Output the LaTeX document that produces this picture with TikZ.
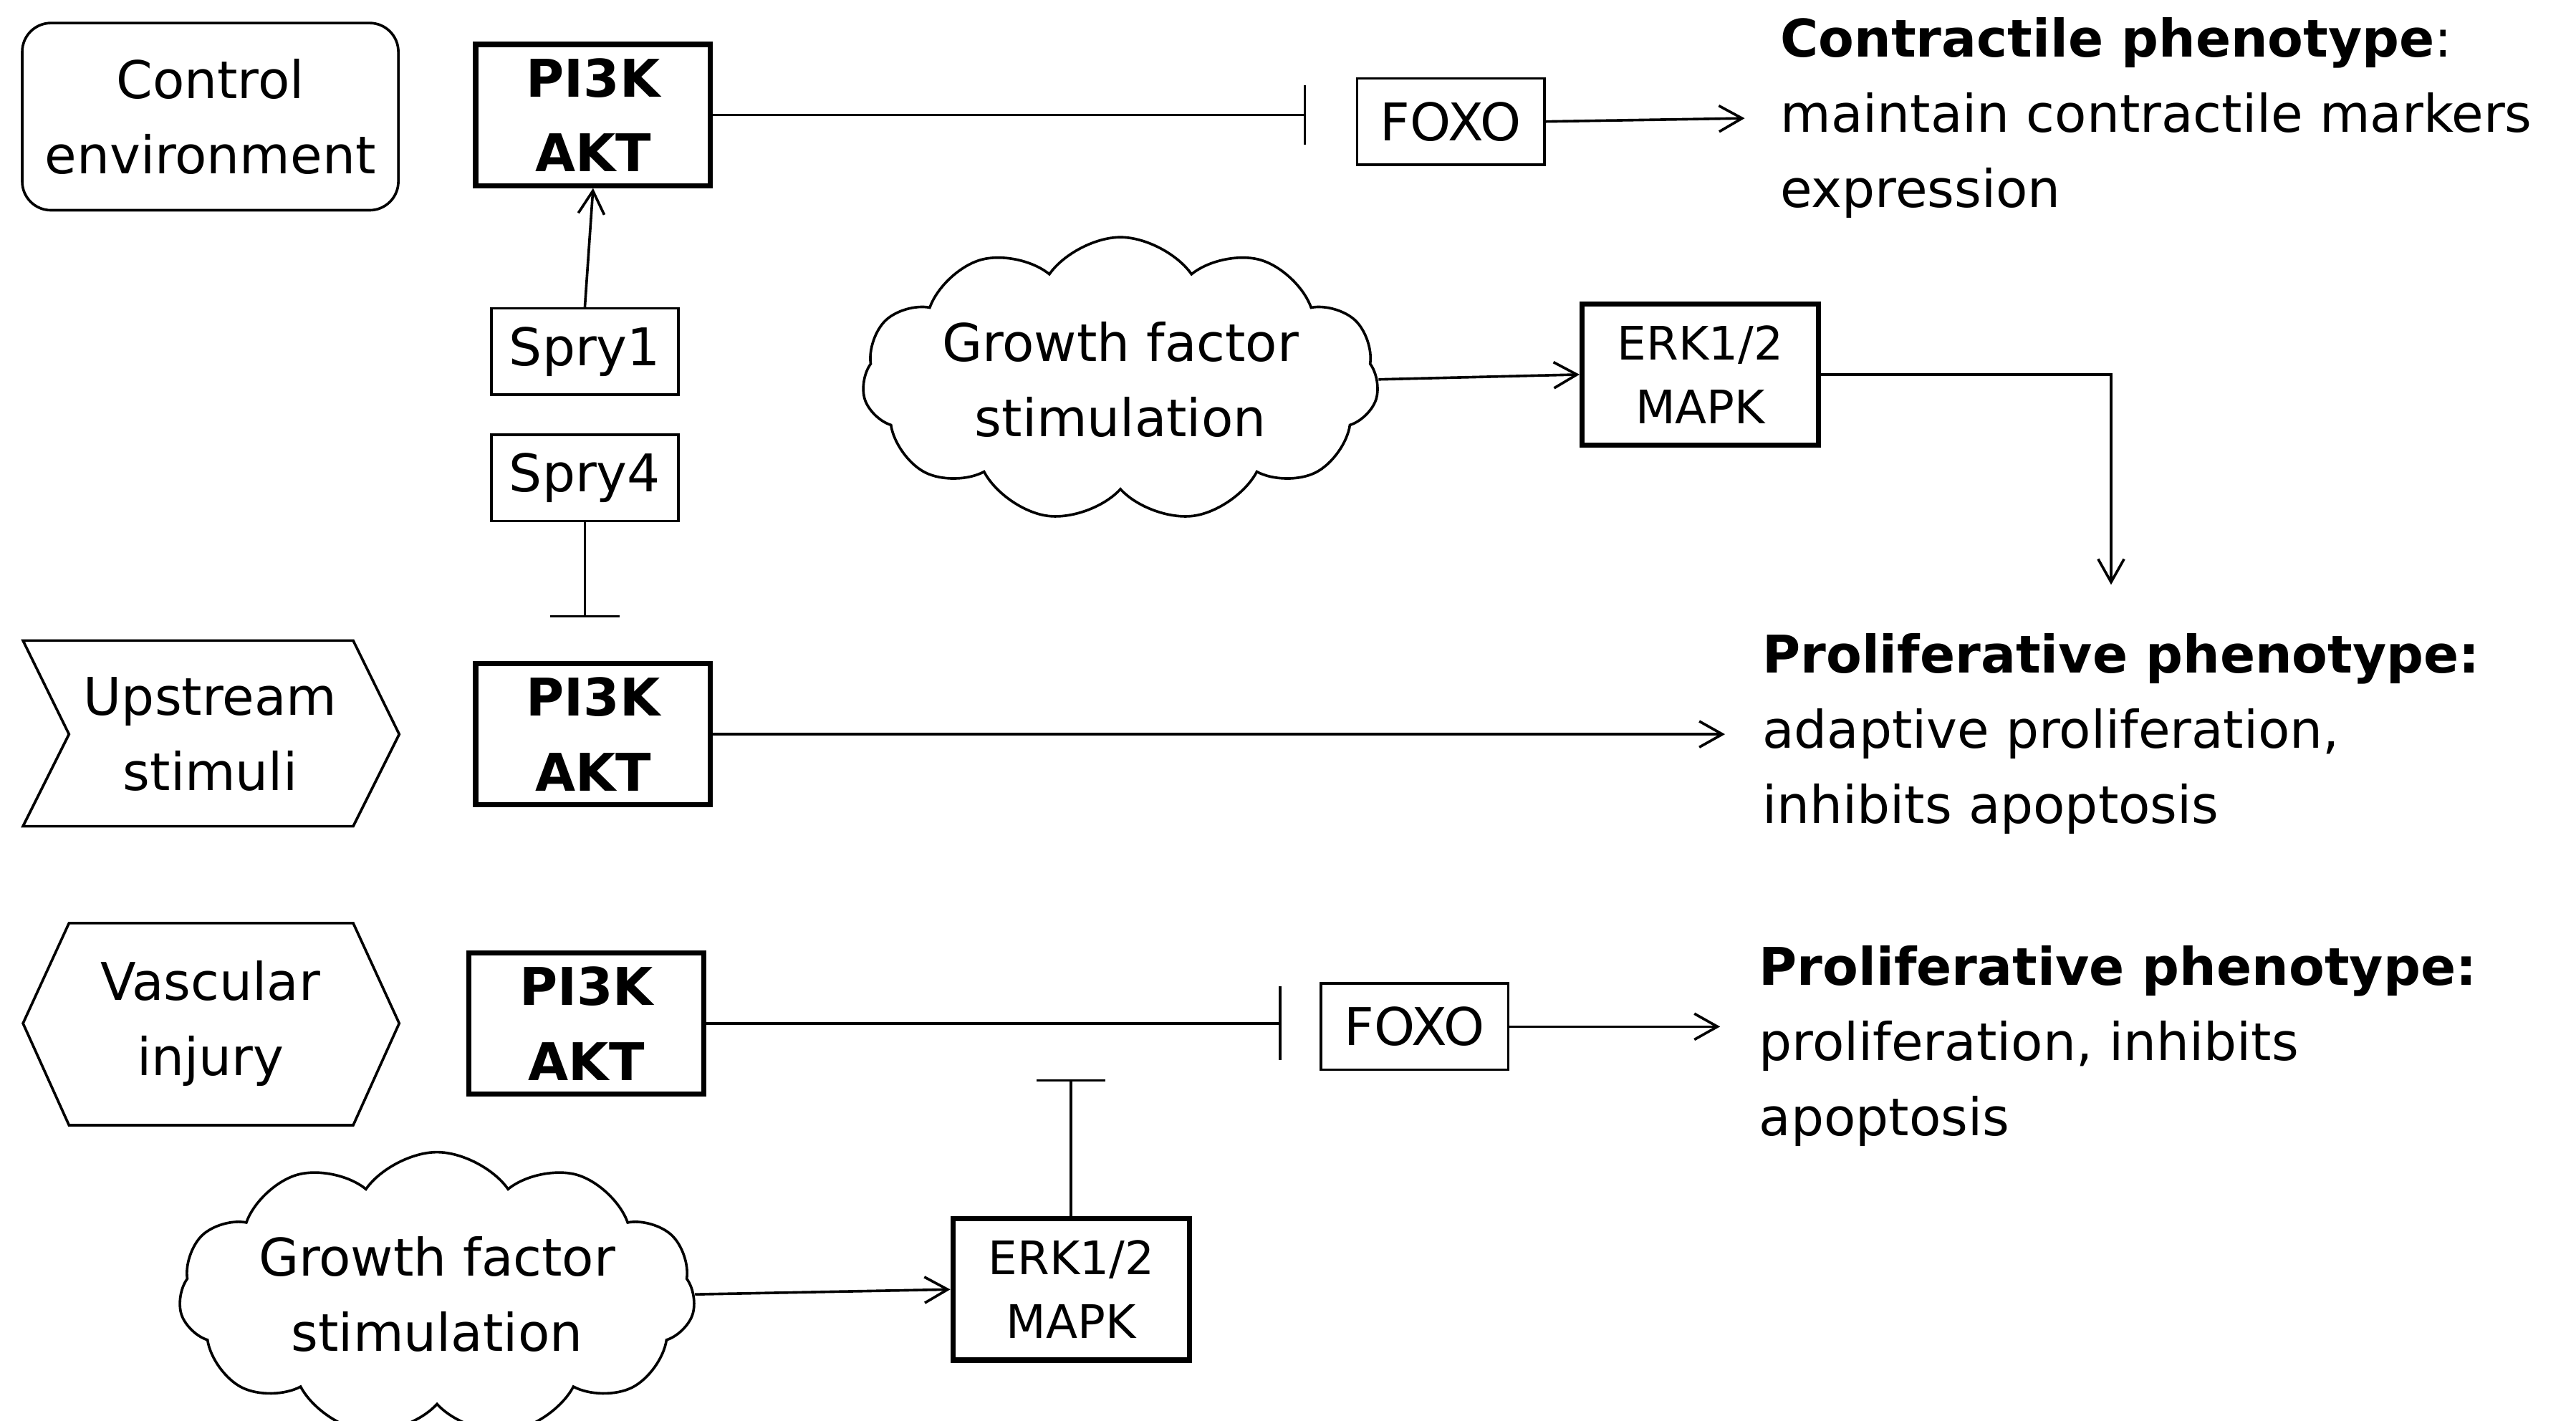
\documentclass[tikz,border=0pt]{standalone}
\usepackage{fontspec}
\setmainfont{DejaVu Sans}
\usetikzlibrary{arrows.meta,shapes.symbols}
\begin{document}
\begin{tikzpicture}[x=0.02cm,y=-0.02cm,line width=0.9pt,
  every node/.style={font=\fontsize{18}{26}\selectfont},
  bx/.style={draw,line width=0.9pt,minimum width=2.28cm,minimum height=1.05cm,inner sep=0pt},
  pk/.style={draw,line width=1.8pt,minimum width=2.86cm,minimum height=1.72cm,inner sep=0pt,align=center,font=\fontsize{18}{26}\selectfont\bfseries},
  erk/.style={draw,line width=1.8pt,minimum width=2.88cm,minimum height=1.72cm,inner sep=0pt,align=center,font=\fontsize{16}{22}\selectfont},
  cl/.style={draw,cloud,cloud puffs=11,cloud puff arc=110,aspect=2.3,minimum width=5.3cm,minimum height=2.4cm,inner sep=0pt,align=center},
  ar/.style={-{Straight Barb[length=8pt,width=9pt]}},
  txt/.style={anchor=north west,align=left,inner sep=0pt}]
\useasboundingbox (0,0) rectangle (1568,865);
% row 1
\node[draw,rounded corners=0.35cm,minimum width=4.58cm,minimum height=2.28cm,align=center,line width=0.9pt] (ce) at (128,71) {Control\\environment};
\node[pk] (p1) at (361,70) {PI3K\\AKT};
\node[bx] (f1) at (883,74) {FOXO};
\coordinate (b1) at (795,70);
\draw[-{Bar[width=0.72cm]}] (p1.east) -- (b1);
\coordinate (e1) at (1062,72);
\draw[ar] (f1.east) -- (e1);
\node[txt] (t1) at (1083,10) {\textbf{Contractile phenotype}:\\maintain contractile markers\\expression};
\node[bx] (s1) at (356,214) {Spry1};
\node[bx] (s4) at (356,291) {Spry4};
\draw[ar] (s1.north) -- (p1.south);
\coordinate (b2) at (356,376);
\draw[-{Bar[width=0.84cm]}] (s4.south) -- (b2);
\node[cl] (g1) at (682,231) {Growth factor\\stimulation};
\node[erk] (m1) at (1035,228) {ERK1/2\\MAPK};
\draw[ar] (g1.east) -- (m1.west);
\coordinate (e2) at (1285,356);
\draw[ar] (m1.east) -| (e2);
% row 2
\draw (14,390) -- (215,390) -- (243,447) -- (215,503) -- (14,503) -- (42,447) -- cycle;
\node[align=center] (us) at (128,447) {Upstream\\stimuli};
\node[pk] (p2) at (361,447) {PI3K\\AKT};
\coordinate (e3) at (1050,447);
\draw[ar] (p2.east) -- (e3);
\node[txt] (t2) at (1072,385) {\textbf{Proliferative phenotype:}\\adaptive proliferation,\\inhibits apoptosis};
% row 3
\draw (42,562) -- (215,562) -- (243,623) -- (215,685) -- (42,685) -- (14,623) -- cycle;
\node[align=center] (vi) at (128,623) {Vascular\\injury};
\node[pk] (p3) at (357,623) {PI3K\\AKT};
\node[bx] (f3) at (861,625) {FOXO};
\coordinate (b3) at (780,623);
\draw[-{Bar[width=0.9cm]}] (p3.east) -- (b3);
\coordinate (e4) at (1047,625);
\draw[ar] (f3.east) -- (e4);
\node[txt] (t3) at (1070,575) {\textbf{Proliferative phenotype:}\\proliferation, inhibits\\apoptosis};
\node[erk] (m2) at (652,785) {ERK1/2\\MAPK};
\coordinate (b4) at (652,657);
\draw[-{Bar[width=0.84cm]}] (m2.north) -- (b4);
\node[cl] (g2) at (266,788) {Growth factor\\stimulation};
\draw[ar] (g2.east) -- (m2.west);
\end{tikzpicture}
\end{document}
